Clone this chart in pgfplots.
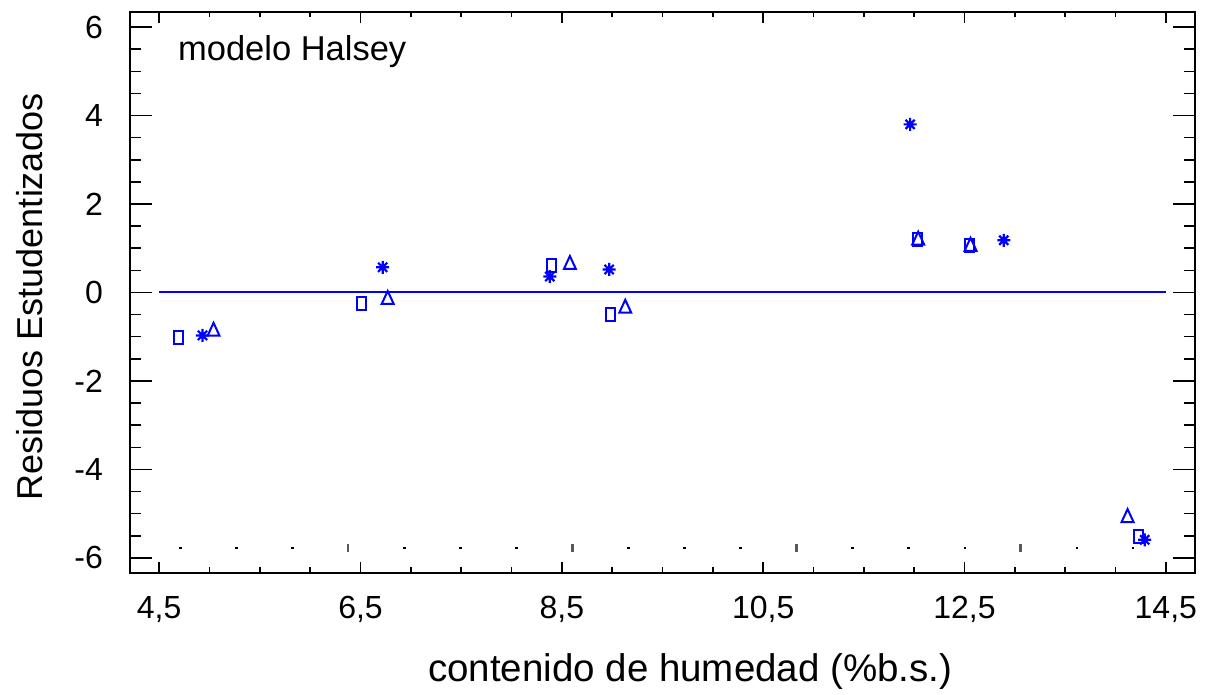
\documentclass[border=0pt]{standalone}
\usepackage{pgfplots}
\pgfplotsset{compat=1.18}
\usepackage{fontspec}
\setmainfont{Liberation Sans}

% eight-armed asterisk mark
\pgfdeclareplotmark{ast8}{%
  \pgfpathmoveto{\pgfqpoint{-\pgfplotmarksize}{0pt}}\pgfpathlineto{\pgfqpoint{\pgfplotmarksize}{0pt}}%
  \pgfpathmoveto{\pgfqpoint{0pt}{-\pgfplotmarksize}}\pgfpathlineto{\pgfqpoint{0pt}{\pgfplotmarksize}}%
  \pgfpathmoveto{\pgfqpoint{-0.707\pgfplotmarksize}{-0.707\pgfplotmarksize}}%
  \pgfpathlineto{\pgfqpoint{0.707\pgfplotmarksize}{0.707\pgfplotmarksize}}%
  \pgfpathmoveto{\pgfqpoint{-0.707\pgfplotmarksize}{0.707\pgfplotmarksize}}%
  \pgfpathlineto{\pgfqpoint{0.707\pgfplotmarksize}{-0.707\pgfplotmarksize}}%
  \pgfusepathqstroke}

% Studentized residuals, three replicate series
\pgfplotstableread{
x y
4.69 -1.02
6.51 -0.25
8.40 0.61
8.98 -0.50
12.03 1.20
12.55 1.06
14.23 -5.52
}\seriesA
\pgfplotstableread{
x y
4.93 -0.97
6.72 0.57
8.38 0.36
8.97 0.52
11.96 3.80
12.89 1.18
14.29 -5.59
}\seriesB
\pgfplotstableread{
x y
5.04 -0.88
6.77 -0.16
8.58 0.63
9.13 -0.36
12.04 1.18
12.56 1.04
14.12 -5.09
}\seriesC

\pgfplotsset{
  resframe/.style={
    scale only axis, width=1065pt, height=561pt,
    at={(130pt,122pt)}, anchor=south west,
    xmin=4.21, xmax=14.79, ymin=-6.34, ymax=6.34,
    axis line style={line width=1.5pt, black},
    tick style={line width=1.5pt, black},
    tick align=inside,
    clip=false,
  }
}

\begin{document}
\begin{tikzpicture}
\useasboundingbox (0,0) rectangle (1214pt,695pt);

% frame with the y ticks and the y label
\begin{axis}[resframe,
  xtick=\empty,
  ytick={-6,-4,-2,0,2,4,6},
  yticklabels={-6,-4,-2,0,2,4,6},
  minor y tick num=3,
  major tick length=22pt, minor tick length=11pt,
  yticklabel style={font=\fontsize{32}{32}\selectfont, inner sep=0pt, xshift=-27pt, anchor=east},
  ylabel={Residuos Estudentizados},
  every axis y label/.style={at={(axis description cs:-0.0939,0.492)}, rotate=90, anchor=center,
    font=\fontsize{36}{36}\selectfont},
]
\end{axis}

% x ticks, data and zero line
\begin{axis}[resframe,
  ytick=\empty,
  xtick={4.5,6.5,8.5,10.5,12.5,14.5},
  xticklabels={{4,5},{6,5},{8,5},{10,5},{12,5},{14,5}},
  minor x tick num=3,
  major tick length=11pt, minor tick length=5.5pt,
  xticklabel style={font=\fontsize{32}{32}\selectfont, inner sep=0pt, yshift=-23pt, anchor=north},
  xlabel={contenido de humedad (\%b.s.)},
  every axis x label/.style={at={(axis description cs:0.526,-0.1765)}, anchor=center,
    font=\fontsize{38.5}{38.5}\selectfont},
]
% reference line
\addplot[blue, line width=2pt] coordinates {(4.5,0) (14.5,0)};

% faint marker row near the bottom
\addplot[only marks, mark=square*, mark size=0.8pt, draw=none, fill=gray!60] coordinates {
(4.708,-5.77) (5.265,-5.77) (5.821,-5.77) (6.935,-5.77) (7.491,-5.77) (8.048,-5.77)
(9.161,-5.77) (9.717,-5.77) (10.274,-5.77) (11.387,-5.77) (11.943,-5.77) (12.500,-5.77)
(13.613,-5.77) (14.170,-5.77)};
\addplot[only marks, mark=|, mark size=4pt, mark options={line width=2.4pt, draw=gray!70!black}] coordinates {
(6.378,-5.77) (8.604,-5.77) (10.830,-5.77) (13.057,-5.77)};

% residuals
\addplot[only marks, mark=square, mark size=5.5pt, mark options={xscale=0.82, yscale=1.18, line width=2pt, draw=blue}] table {\seriesA};
\addplot[only marks, mark=ast8, mark size=6.5pt, mark options={line width=2.2pt, draw=blue}] table {\seriesB};
\addplot[only marks, mark=triangle, mark size=6.9pt, mark options={yscale=1.25, line width=2pt, draw=blue}] table {\seriesC};

\node[anchor=west, inner sep=0pt, font=\fontsize{34.5}{34.5}\selectfont] at (axis description cs:0.045,0.929) {modelo Halsey};
\end{axis}
\end{tikzpicture}
\end{document}
